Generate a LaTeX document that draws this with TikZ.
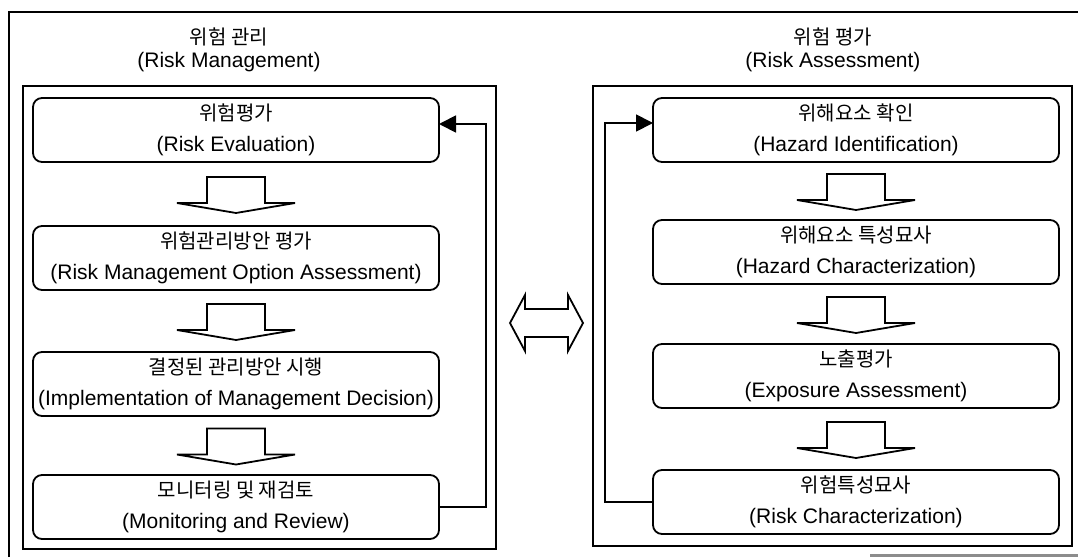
\documentclass[tikz,border=0pt]{standalone}
\usepackage{fontspec}
\setmainfont{Liberation Sans}
\newfontfamily\kr{Noto Sans CJK KR}
\newcommand\krt[1]{{\kr\fontsize{20}{31}\selectfont #1}}
\usetikzlibrary{arrows.meta,calc}
\begin{document}
\begin{tikzpicture}[x=1pt,y=-1pt,
  every node/.style={inner sep=0pt, outer sep=0pt},
  txt/.style={font=\fontsize{21}{31}\selectfont},
  panel/.style={draw, line width=1.8pt},
  stepbox/.style={draw, line width=1.8pt, rounded corners=9pt,
    minimum width=406pt, minimum height=64pt, align=center,
    font=\fontsize{21}{31}\selectfont},
  frameline/.style={line width=1.8pt},
  feedback/.style={line width=1.8pt, -{Triangle[length=17pt,width=17pt]}},
  blockarrow/.style={line width=1.8pt, line join=miter, fill=white},
  pics/flowdown/.style={code={
    \draw[blockarrow] (-29,-17) -- (-29,9) -- (-59,9) -- (0,19)
      -- (59,9) -- (29,9) -- (29,-17) -- cycle;}}
]
\useasboundingbox (0,0) rectangle (1078,557);

% outer frame
\draw[frameline] (9,557) -- (9,12) -- (1078,12);
\draw[line width=3pt, black!45] (870,555) -- (1078,555);

% panels
\node[panel, minimum width=473pt, minimum height=463pt] (rmpanel) at (259.5,317.5) {};
\node[panel, minimum width=479pt, minimum height=460pt] (rapanel) at (832.5,316) {};

% headings
\node[txt] (rmhead) at (229,37) {\krt{위험 관리}};
\node[txt] (rmheaden) at (229,62) {(Risk Management)};
\node[txt] (rahead) at (833,37) {\krt{위험 평가}};
\node[txt] (raheaden) at (833,62) {(Risk Assessment)};

% risk management steps
\node[stepbox] (rm1) at (236,130) {\krt{위험평가}\\(Risk Evaluation)};
\node[stepbox] (rm2) at (236,258) {\krt{위험관리방안 평가}\\(Risk Management Option Assessment)};
\node[stepbox] (rm3) at (236,384) {\krt{결정된 관리방안 시행}\\(Implementation of Management Decision)};
\node[stepbox] (rm4) at (236,507) {\krt{모니터링 및 재검토}\\(Monitoring and Review)};

% risk assessment steps
\node[stepbox] (ra1) at (856,130) {\krt{위해요소 확인}\\(Hazard Identification)};
\node[stepbox] (ra2) at (856,252) {\krt{위해요소 특성묘사}\\(Hazard Characterization)};
\node[stepbox] (ra3) at (856,376) {\krt{노출평가}\\(Exposure Assessment)};
\node[stepbox] (ra4) at (856,502) {\krt{위험특성묘사}\\(Risk Characterization)};

% block arrows between steps
\pic at ($(rm1.south)!0.5!(rm2.north)$) {flowdown};
\pic at ($(rm2.south)!0.5!(rm3.north)$) {flowdown};
\pic at ($(rm3.south)!0.5!(rm4.north)$) {flowdown};
\pic at ($(ra1.south)!0.5!(ra2.north)$) {flowdown};
\pic at ($(ra2.south)!0.5!(ra3.north)$) {flowdown};
\pic at ($(ra3.south)!0.5!(ra4.north)$) {flowdown};

% feedback loops
\coordinate (rmloop) at (486,124);
\coordinate (raloop) at (605,123);
\draw[feedback] (rm4.east) -| (rmloop) -- (rmloop -| rm1.east);
\draw[feedback] (ra4.west) -| (raloop) -- (raloop -| ra1.west);

% two-way link between the panels
\draw[blockarrow] (510,323) -- (525,295) -- (525,309) -- (568,309) -- (568,295)
  -- (583,323) -- (568,351) -- (568,337) -- (525,337) -- (525,351) -- cycle;
\end{tikzpicture}
\end{document}
